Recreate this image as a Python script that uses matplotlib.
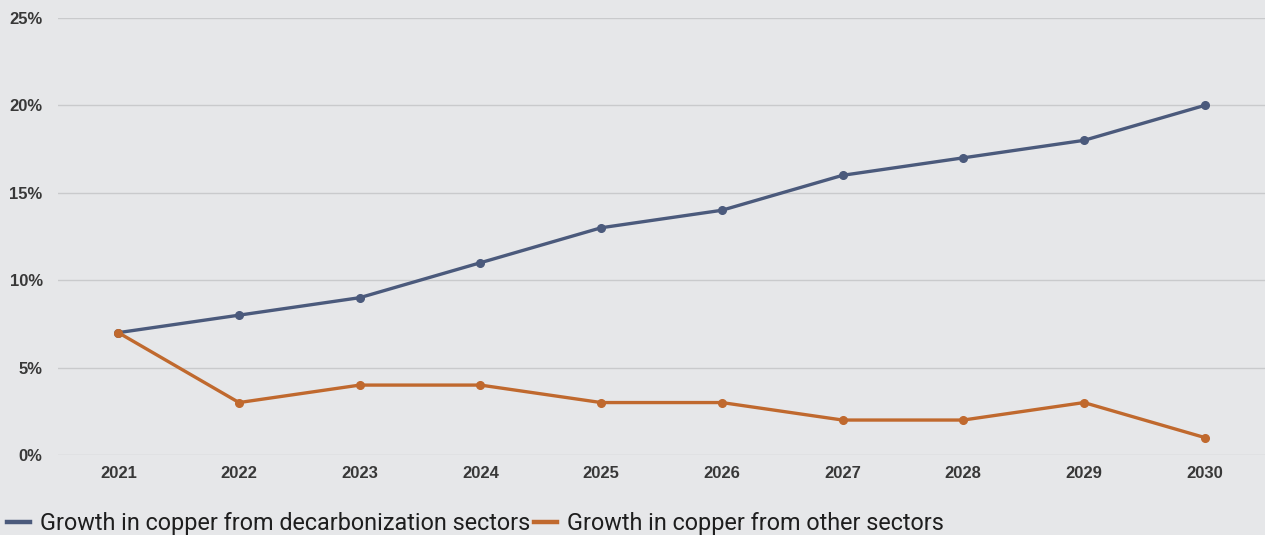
import matplotlib
matplotlib.use("Agg")
import matplotlib.pyplot as plt
from matplotlib.ticker import FuncFormatter

years = [2021, 2022, 2023, 2024, 2025, 2026, 2027, 2028, 2029, 2030]
decarb = [7, 8, 9, 11, 13, 14, 16, 17, 18, 20]
other = [7, 3, 4, 4, 3, 3, 2, 2, 3, 1]
series_names = ["Growth in copper from decarbonization sectors",
                "Growth in copper from other sectors"]
y_ticks = [0, 5, 10, 15, 20, 25]

bg = "#e6e7e9"
blue = "#4b5a7c"
orange = "#c0692e"

fig = plt.figure(figsize=(12.65, 5.35), dpi=100, facecolor=bg)
ax = fig.add_axes([58/1265, 1-455/535, 1-58/1265, (455-18)/535], facecolor=bg)

l1, = ax.plot(years, decarb, color=blue, lw=2.4, marker="o", ms=5.5, label=series_names[0], zorder=3)
l2, = ax.plot(years, other, color=orange, lw=2.4, marker="o", ms=5.5, label=series_names[1], zorder=3)

ax.set_xlim(2020.5, 2030.5)
ax.set_ylim(0, 25)
ax.set_xticks(years)
ax.set_xticklabels([str(y) for y in years])
ax.set_yticks(y_ticks)
ax.yaxis.set_major_formatter(FuncFormatter(lambda v, p: f"{int(v)}%"))
ax.grid(axis="y", color="#c9cacc", lw=1)
ax.set_axisbelow(True)
for s in ax.spines.values():
    s.set_visible(False)
ax.tick_params(length=0, labelsize=12)
ax.tick_params(axis="y", pad=11)
ax.tick_params(axis="x", pad=8)
for lab in ax.get_xticklabels() + ax.get_yticklabels():
    lab.set_family("Liberation Sans")
    lab.set_fontweight("bold")
    lab.set_color("#383838")

leg = fig.legend(handles=[l1, l2], loc="lower left", bbox_to_anchor=(7/1265, 0.0),
                 ncol=2, frameon=False, handlelength=1.0, handletextpad=0.43,
                 columnspacing=0.13, borderpad=0, borderaxespad=0,
                 prop={"family": "Roboto", "size": 16.8})
for h in leg.legend_handles:
    h.set_marker("")
    h.set_linewidth(3.2)
for t in leg.get_texts():
    t.set_color("#1e1e1e")

fig.savefig("out.png", dpi=100, facecolor=bg)
